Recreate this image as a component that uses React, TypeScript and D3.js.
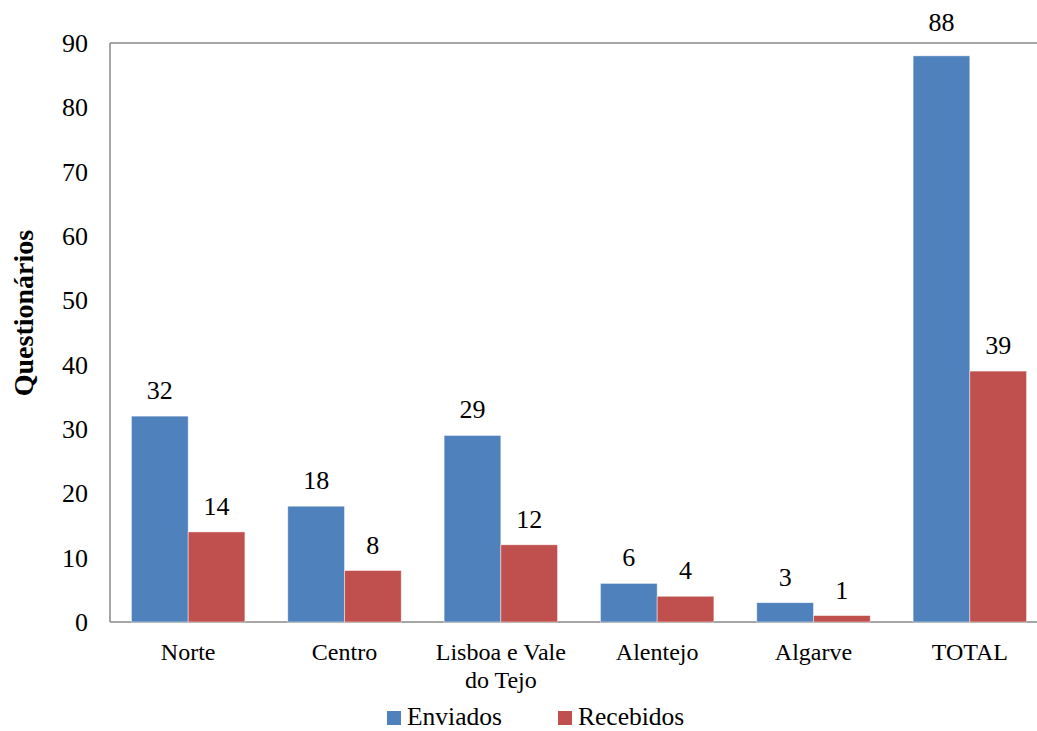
import React from "react";
import * as d3 from "d3";

const categories: string[][] = [
  ["Norte"],
  ["Centro"],
  ["Lisboa e Vale", "do Tejo"],
  ["Alentejo"],
  ["Algarve"],
  ["TOTAL"],
];
const seriesNames = ["Enviados", "Recebidos"];
const enviados = [32, 18, 29, 6, 3, 88];
const recebidos = [14, 8, 12, 4, 1, 39];
const seriesColors = ["#4F81BD", "#C0504D"];
const yTicks = [0, 10, 20, 30, 40, 50, 60, 70, 80, 90];

const W = 1037;
const H = 731;
const left = 110;
const top = 43;
const bottom = 622;
const right = 1048;
const font = "Liberation Serif, DejaVu Serif, serif";

export default function App() {
  const keys = categories.map((c) => c.join(" "));
  const x = d3.scaleBand<string>().domain(keys).range([left, right]).paddingInner(0).paddingOuter(0);
  const xi = d3
    .scaleBand<string>()
    .domain(seriesNames)
    .range([0, x.bandwidth()])
    .paddingInner(0)
    .paddingOuter(0.378);
  const y = d3.scaleLinear().domain([0, 90]).range([bottom, top]);
  const values = [enviados, recebidos];
  const txt = { fontFamily: font } as React.CSSProperties;

  return (
    <div style={{ position: "fixed", left: 0, top: 0, width: W, height: H, overflow: "hidden", background: "#fff" }}>
      <svg width={W} height={H} style={{ display: "block", fontFamily: font }}>
        {/* frame: top border, left axis, bottom axis */}
        <line x1={left} x2={right} y1={y(90)} y2={y(90)} stroke="#898989" strokeWidth={1.5} />
        <line x1={left} x2={left} y1={y(90)} y2={bottom} stroke="#898989" strokeWidth={1.5} />
        <line x1={left} x2={right} y1={bottom} y2={bottom} stroke="#898989" strokeWidth={1.5} />

        {yTicks.map((t) => (
          <text key={t} x={88} y={y(t)} dy="0.35em" textAnchor="end" fontSize={26} fill="#000" style={txt}>
            {t}
          </text>
        ))}

        <text
          transform={`translate(${23},${313}) rotate(-90)`}
          textAnchor="middle"
          dy="0.35em"
          fontSize={28}
          fontWeight="bold"
          fill="#000"
          style={txt}
        >
          Questionários
        </text>

        {keys.map((k, ci) => (
          <g key={k}>
            {seriesNames.map((s, si) => {
              const v = values[si][ci];
              const bx = (x(k) as number) + (xi(s) as number);
              // value label above the bar; lifted over the top border if it would cross it
              const raw = y(v) - 17;
              const ly = raw - 18 < top ? top - 12 : raw;
              return (
                <g key={s}>
                  <rect
                    x={bx}
                    y={y(v)}
                    width={xi.bandwidth()}
                    height={bottom - y(v)}
                    fill={seriesColors[si]}
                    stroke="#ffffff"
                    strokeOpacity={0.6}
                    strokeWidth={0.75}
                  />
                  <text
                    x={bx + xi.bandwidth() / 2}
                    y={ly}
                    textAnchor="middle"
                    fontSize={26}
                    fill="#000"
                    style={txt}
                  >
                    {v}
                  </text>
                </g>
              );
            })}
            {categories[ci].map((line, li) => (
              <text
                key={li}
                x={(x(k) as number) + x.bandwidth() / 2}
                y={652 + li * 28}
                dy="0.35em"
                textAnchor="middle"
                fontSize={24}
                fill="#000"
                style={txt}
              >
                {line}
              </text>
            ))}
          </g>
        ))}

        {/* legend */}
        {[387, 558].map((lx, i) => (
          <g key={seriesNames[i]}>
            <rect x={lx} y={711} width={14} height={14} fill={seriesColors[i]} />
            <text x={lx + 20} y={716} dy="0.35em" fontSize={25.5} fill="#000" style={txt}>
              {seriesNames[i]}
            </text>
          </g>
        ))}
      </svg>
    </div>
  );
}
